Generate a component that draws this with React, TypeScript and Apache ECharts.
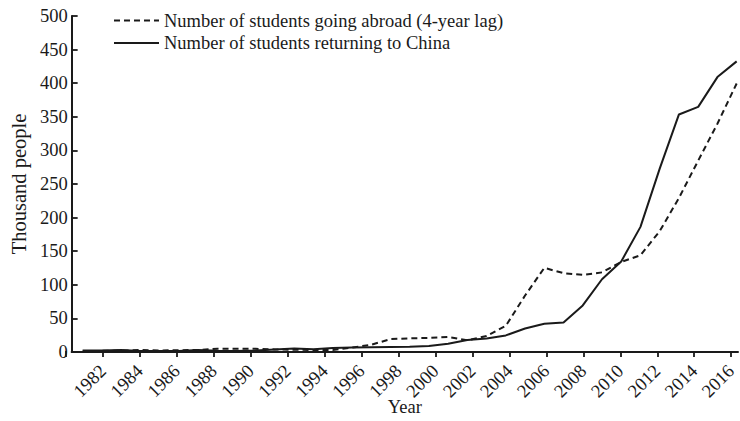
import React, { useEffect, useRef } from "react";
import * as echarts from "echarts";

const years = [
  1982, 1983, 1984, 1985, 1986, 1987, 1988, 1989, 1990, 1991, 1992, 1993, 1994, 1995, 1996, 1997, 1998,
  1999, 2000, 2001, 2002, 2003, 2004, 2005, 2006, 2007, 2008, 2009, 2010, 2011, 2012, 2013, 2014, 2015, 2016,
];
// Thousand people
const goingAbroadLag4 = [
  0.9, 1.8, 2.1, 2.9, 2.3, 2.6, 3.1, 4.9, 4.7, 4.7, 3.8, 3.3, 3.0, 2.9, 6.5, 10.7, 19.1, 20.4, 20.9,
  22.4, 17.6, 23.7, 39.0, 84.0, 125.2, 117.3, 114.7, 118.5, 134.0, 144.0, 179.8, 229.3, 284.7, 339.7, 399.6,
];
const returning = [
  2.1, 2.3, 2.9, 1.4, 1.4, 1.6, 3.0, 1.8, 1.6, 2.1, 3.6, 5.1, 4.2, 5.8, 6.6, 7.1, 7.4, 7.7, 9.1, 12.2,
  17.9, 20.2, 24.7, 35.0, 42.0, 44.0, 69.3, 108.3, 134.8, 186.2, 272.9, 353.5, 364.8, 409.1, 432.5,
];
const seriesNames = ["Number of students going abroad (4-year lag)", "Number of students returning to China"];
const yAxisName = "Thousand people";
const xAxisName = "Year";

const FONT = "Liberation Serif, Times New Roman, serif";
const INK = "#1a1a1a";
const FS = 18.5;

export default function App() {
  const ref = useRef<HTMLDivElement>(null);
  useEffect(() => {
    document.body.style.margin = "0";
    const chart = echarts.init(ref.current!, undefined, { renderer: "svg" });
    chart.setOption({
      animation: false,
      backgroundColor: "#ffffff",
      textStyle: { fontFamily: FONT, color: INK },
      legend: {
        orient: "vertical",
        left: 113,
        top: 11,
        padding: 0,
        itemGap: 3.5,
        itemWidth: 45,
        itemHeight: 14,
        data: seriesNames,
        itemStyle: { opacity: 0 },
        textStyle: { fontFamily: FONT, fontSize: FS, color: INK },
      },
      grid: [
        { left: 66, top: 16, width: 672, height: 341 },
        { left: 66, top: 16, width: 680, height: 341 },
      ],
      xAxis: [
        {
          type: "value",
          gridIndex: 0,
          min: 1981.43,
          max: 2016.07,
          splitLine: { show: false },
          axisTick: { show: false },
          axisLabel: { show: false },
          axisLine: { show: true, lineStyle: { color: INK, width: 2 } },
          name: xAxisName,
          nameLocation: "middle",
          nameGap: 45,
          nameTextStyle: { fontFamily: FONT, fontSize: FS, color: INK },
        },
        {
          type: "value",
          gridIndex: 1,
          min: 1980,
          max: 2016,
          interval: 2,
          splitLine: { show: false },
          axisLine: { show: false },
          axisTick: { show: true, inside: true, length: 6, lineStyle: { color: INK, width: 1.8 } },
          axisLabel: {
            show: true,
            rotate: 45,
            margin: 11,
            fontFamily: FONT,
            fontSize: FS,
            color: INK,
            showMinLabel: true,
            showMaxLabel: true,
            formatter: (v: number) => (v === 1980 ? "" : String(v)),
          },
        },
      ],
      yAxis: [
        {
          type: "value",
          gridIndex: 0,
          min: 0,
          max: 500,
          interval: 50,
          splitLine: { show: false },
          axisLine: { show: true, lineStyle: { color: INK, width: 2 } },
          axisTick: { show: true, inside: true, length: 6, lineStyle: { color: INK, width: 1.8 } },
          axisLabel: { margin: 4, fontFamily: FONT, fontSize: FS, color: INK },
          name: yAxisName,
          nameLocation: "middle",
          nameGap: 40,
          nameTextStyle: { fontFamily: FONT, fontSize: 20.5, color: INK },
        },
        {
          type: "value",
          gridIndex: 1,
          min: 0,
          max: 500,
          show: false,
        },
      ],
      series: [
        {
          name: seriesNames[0],
          type: "line",
          xAxisIndex: 0,
          yAxisIndex: 0,
          symbol: "none",
          lineStyle: { color: INK, width: 2, type: [6, 4] },
          itemStyle: { color: INK },
          data: years.map((y, i) => [y, goingAbroadLag4[i]]),
        },
        {
          name: seriesNames[1],
          type: "line",
          xAxisIndex: 0,
          yAxisIndex: 0,
          symbol: "none",
          lineStyle: { color: INK, width: 2, type: "solid" },
          itemStyle: { color: INK },
          data: years.map((y, i) => [y, returning[i]]),
        },
      ],
    });
    return () => chart.dispose();
  }, []);
  return <div ref={ref} style={{ width: 740, height: 421 }} />;
}
